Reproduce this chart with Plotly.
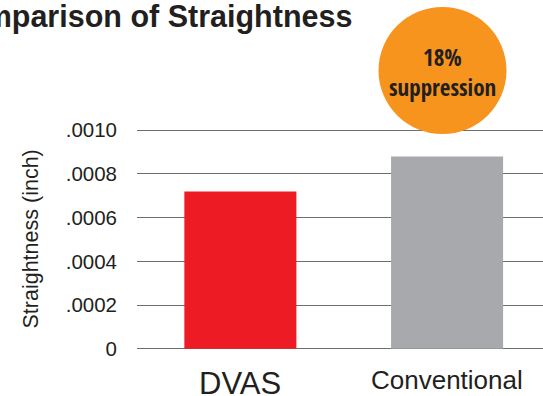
import plotly.graph_objects as go

# ---- data ----
categories = ["DVAS", "Conventional"]
values = [0.00072, 0.00088]
bar_colors = ["#ED1C24", "#A7A9AC"]
tick_vals = [0, 0.0002, 0.0004, 0.0006, 0.0008, 0.0010]
tick_text = ["0", ".0002", ".0004", ".0006", ".0008", ".0010"]
title_text = "Comparison of Straightness"
y_title = "Straightness (inch)"
badge_lines = ["18%", "suppression"]

W, H = 543, 396
L, R, T, B = 137, 0, 128, 45

def px(p):
    return (p - L) / (W - L - R)

def py(p):
    return (H - B - p) / (H - T - B)

fig = go.Figure()
fig.add_trace(go.Bar(
    x=categories, y=values, marker=dict(color=bar_colors, line=dict(width=0)),
    width=0.542, showlegend=False,
))

text_color = "#231F20"
base_font = "Liberation Sans, Arial, sans-serif"
fig.update_layout(
    width=W, height=H,
    margin=dict(l=L, r=R, t=T, b=B, pad=0),
    paper_bgcolor="white", plot_bgcolor="white",
    font=dict(family=base_font, color=text_color),
    xaxis=dict(range=[-0.5, 1.464], showticklabels=False, showgrid=False,
               zeroline=False, showline=False, ticks=""),
    yaxis=dict(range=[-0.00001, 0.00101], tickvals=tick_vals, ticktext=tick_text,
               showgrid=True, gridcolor="#6D6E71", gridwidth=1.2,
               zeroline=True, zerolinecolor="#6D6E71", zerolinewidth=1.2,
               showline=False, ticks="", ticklabelstandoff=19,
               tickfont=dict(size=20.5, color=text_color)),
)

# badge circle
fig.add_shape(type="circle", xref="paper", yref="paper",
              x0=px(378.5), x1=px(506.5), y0=py(134), y1=py(7),
              fillcolor="#F7941D", line=dict(width=0), layer="above")

annos = []
annos.append(dict(text="<b>" + title_text + "</b>", xref="paper", yref="paper",
                  x=px(354), y=py(17), xanchor="right", yanchor="middle",
                  showarrow=False, font=dict(size=30.5, color=text_color, family=base_font)))
annos.append(dict(text=y_title, xref="paper", yref="paper", x=px(30), y=0.5,
                  xanchor="center", yanchor="middle", textangle=-90, showarrow=False,
                  font=dict(size=21.5, color=text_color)))
narrow = "Open Sans Condensed, Roboto Condensed, sans-serif"
annos.append(dict(text="<b>" + badge_lines[0] + "</b>", xref="paper", yref="paper",
                  x=px(442), y=py(57), xanchor="center", yanchor="middle",
                  showarrow=False, font=dict(size=23, color="#231F20", family=narrow)))
annos.append(dict(text="<b>" + badge_lines[1] + "</b>", xref="paper", yref="paper",
                  x=px(442), y=py(87), xanchor="center", yanchor="middle",
                  showarrow=False, font=dict(size=23, color="#231F20", family=narrow)))
# category labels
label_sizes = [31, 26]
label_y = [383, 380]
for cat, s, yy in zip(categories, label_sizes, label_y):
    annos.append(dict(text=cat, xref="x", yref="paper", x=cat, y=py(yy),
                      xanchor="center", yanchor="middle", showarrow=False,
                      font=dict(size=s, color=text_color)))
fig.update_layout(annotations=annos)

fig.write_html("out.html")
